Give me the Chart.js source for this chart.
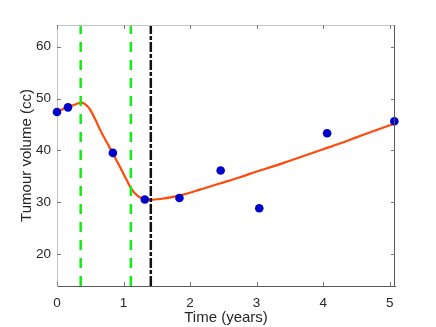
<!DOCTYPE html>
<html lang="en">
<head>
    <meta charset="UTF-8">
    <title>Tumour volume</title>
    <script src="https://cdn.jsdelivr.net/npm/chart.js@4/dist/chart.umd.min.js"></script>
    <style>
        body { margin: 0; background: #fff; }
    </style>
</head>
<body>

<canvas id="myChart" width="436" height="327"></canvas>

<script>

    // measured tumour volumes
    var obsTime = [0, 0.165, 0.84, 1.32, 1.84, 2.46, 3.04, 4.06, 5.07];
    var obsVolume = [47.4, 48.3, 39.5, 30.5, 30.8, 36.1, 28.8, 43.3, 45.6];

    // model fit
    var fitTime = [0, 0.1, 0.2, 0.3, 0.37, 0.45, 0.5, 0.6, 0.65, 0.75, 0.84, 0.97, 1.05, 1.11, 1.21, 1.32, 1.41, 1.55,
        1.85, 2.15, 2.45, 2.75, 3.0, 3.25, 3.5, 3.75, 4.0, 4.25, 4.5, 4.75, 5.08];
    var fitVolume = [47.5, 48.0, 48.5, 49.0, 49.2, 48.6, 47.8, 45.3, 43.9, 41.5, 39.4, 36.2, 34.2, 32.7, 31.2, 30.6, 30.45, 30.6,
        31.3, 32.4, 33.6, 34.8, 35.9, 36.9, 38.0, 39.1, 40.2, 41.3, 42.5, 43.7, 45.2];

    // treatment markers
    var greenLines = [0.356, 1.11];
    var blackLine = 1.41;

    var xMin = 0, xMax = 5.08;
    var yMin = 13.8, yMax = 64.2;
    var xTicks = [0, 1, 2, 3, 4, 5];
    var yTicks = [20, 30, 40, 50, 60];

    var fontFamily = "'Liberation Sans', Helvetica, Arial, sans-serif";

    function toPoints(xs, ys) {
        var pts = [];
        for (var i = 0; i < xs.length; i++) pts.push({x: xs[i], y: ys[i]});
        return pts;
    }

    function vline(x, color, dash, order) {
        return {
            type: 'line',
            data: [{x: x, y: yMin}, {x: x, y: yMax}],
            borderColor: color,
            borderWidth: 2.5,
            borderDash: dash,
            pointRadius: 0,
            fill: false,
            order: order
        };
    }

    // inward ticks on all four sides plus the top / right frame
    var boxPlugin = {
        id: 'boxTicks',
        afterDatasetsDraw: function (chart) {
            var ctx = chart.ctx;
            var a = chart.chartArea;
            var xs = chart.scales.x, ys = chart.scales.y;
            ctx.save();
            ctx.lineWidth = 1;
            ctx.strokeStyle = '#c4c4c4';
            ctx.beginPath();
            ctx.moveTo(a.left, a.top + 0.5);
            ctx.lineTo(a.right, a.top + 0.5);
            ctx.stroke();
            ctx.strokeStyle = '#5a5a5a';
            ctx.beginPath();
            ctx.moveTo(a.right - 0.5, a.top);
            ctx.lineTo(a.right - 0.5, a.bottom);
            ctx.stroke();

            ctx.strokeStyle = '#777';
            ctx.beginPath();
            xTicks.forEach(function (v) {
                var px = Math.round(xs.getPixelForValue(v)) + 0.5;
                ctx.moveTo(px, a.bottom);
                ctx.lineTo(px, a.bottom - 4);
                ctx.moveTo(px, a.top);
                ctx.lineTo(px, a.top + 4);
            });
            yTicks.forEach(function (v) {
                var py = Math.round(ys.getPixelForValue(v)) + 0.5;
                ctx.moveTo(a.left, py);
                ctx.lineTo(a.left + 4, py);
                ctx.moveTo(a.right, py);
                ctx.lineTo(a.right - 4, py);
            });
            ctx.stroke();
            ctx.restore();
        }
    };

    var config = {
        type: 'scatter',
        data: {
            datasets: [
                vline(greenLines[0], '#11ee11', [10, 8], 0),
                vline(greenLines[1], '#11ee11', [10, 8], 0),
                vline(blackLine, '#111', [10, 2, 4, 2], 0),
                {
                    type: 'scatter',
                    data: toPoints(obsTime, obsVolume),
                    backgroundColor: '#0000cc',
                    borderColor: '#0000cc',
                    pointRadius: 4.3,
                    borderWidth: 0,
                    order: 1
                },
                {
                    type: 'line',
                    data: toPoints(fitTime, fitVolume),
                    borderColor: '#ff4a0a',
                    borderWidth: 2.2,
                    pointRadius: 0,
                    cubicInterpolationMode: 'monotone',
                    fill: false,
                    order: 2
                }
            ]
        },
        options: {
            responsive: false,
            animation: false,
            clip: false,
            layout: {padding: {top: 25, right: 41, left: 0, bottom: 0}},
            plugins: {legend: {display: false}, tooltip: {enabled: false}},
            scales: {
                x: {
                    type: 'linear',
                    min: xMin,
                    max: xMax,
                    grid: {display: false, drawTicks: false},
                    border: {display: true, color: '#5a5a5a', width: 1},
                    ticks: {
                        stepSize: 1,
                        includeBounds: false,
                        padding: 9,
                        color: '#262626',
                        font: {family: fontFamily, size: 13.5}
                    },
                    title: {
                        display: true,
                        text: 'Time (years)',
                        color: '#262626',
                        padding: {top: 0, bottom: 0},
                        font: {family: fontFamily, size: 15}
                    },
                    afterFit: function (scale) { scale.height = 41; }
                },
                y: {
                    type: 'linear',
                    min: yMin,
                    max: yMax,
                    grid: {display: false, drawTicks: false},
                    border: {display: true, color: '#c4c4c4', width: 1},
                    ticks: {
                        stepSize: 10,
                        includeBounds: false,
                        padding: 6,
                        color: '#262626',
                        font: {family: fontFamily, size: 13.5}
                    },
                    title: {
                        display: true,
                        text: 'Tumour volume (cc)',
                        color: '#262626',
                        padding: {top: 17.6, bottom: 0},
                        font: {family: fontFamily, size: 15}
                    },
                    afterFit: function (scale) { scale.width = 57; }
                }
            }
        },
        plugins: [boxPlugin]
    };

    var ctx = document.getElementById("myChart").getContext("2d");
    new Chart(ctx, config);

</script>

</body>
</html>
